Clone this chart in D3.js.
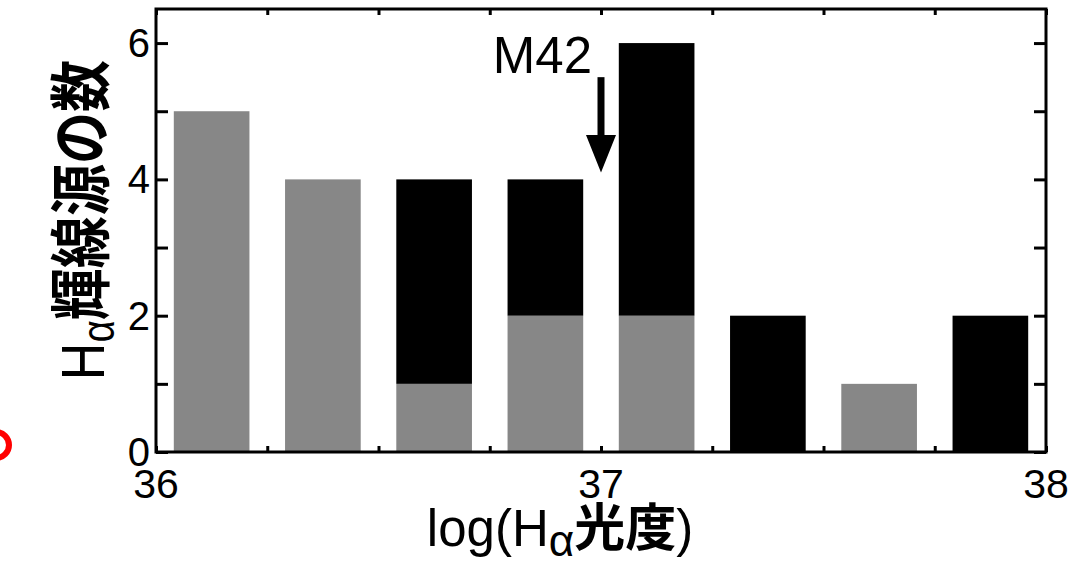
<!DOCTYPE html>
<html>
<head>
<meta charset="utf-8">
<script src="https://cdn.jsdelivr.net/npm/d3@7"></script>
<style>
  body { margin: 0; background: #fff; }
  svg { display: block; }
  text { font-family: "Liberation Sans", Arial, sans-serif; fill: #000; }
  .cjk { font-family: "Noto Sans CJK JP", sans-serif; font-weight: bold; }
</style>
</head>
<body>
<div class="chart"></div>
<script>
// bins of log(H-alpha luminosity), left edges, width 0.25
var binStarts = [36.0, 36.25, 36.5, 36.75, 37.0, 37.25, 37.5, 37.75];
// gray part (bottom of the stack) and black part (on top)
var grayCounts = [5, 4, 1, 2, 2, 0, 1, 0];
var blackCounts = [0, 0, 3, 2, 4, 2, 0, 2];

var xTickLabels = [36, 37, 38];
var yTickLabels = [0, 2, 4, 6];

var m42Value = 37.0;

var svgWidth = 1080, svgHeight = 567;
var margin = { top: 9, right: 34, bottom: 115, left: 156 };
var width = svgWidth - margin.left - margin.right;
var height = svgHeight - margin.top - margin.bottom;

var svg = d3.select(".chart").append("svg")
  .attr("width", svgWidth)
  .attr("height", svgHeight);

var chartGroup = svg.append("g")
  .attr("transform", `translate(${margin.left}, ${margin.top})`);

// scales
var xScale = d3.scaleLinear().domain([36, 38]).range([0, width]);
var xBand = d3.scaleBand()
  .domain(binStarts)
  .range([0, width])
  .paddingInner(0.32)
  .paddingOuter(0.16);
var yScale = d3.scaleLinear().domain([0, 6.5]).range([height, 0]);

// bars
var rows = binStarts.map(function (b, i) {
  return { bin: b, gray: grayCounts[i], black: blackCounts[i] };
});

chartGroup.selectAll(".gray")
  .data(rows.filter(d => d.gray > 0))
  .enter()
  .append("rect")
  .attr("x", d => xBand(d.bin))
  .attr("width", xBand.bandwidth())
  .attr("y", d => yScale(d.gray))
  .attr("height", d => yScale(0) - yScale(d.gray))
  .attr("fill", "#878787");

chartGroup.selectAll(".black")
  .data(rows.filter(d => d.black > 0))
  .enter()
  .append("rect")
  .attr("x", d => xBand(d.bin))
  .attr("width", xBand.bandwidth())
  .attr("y", d => yScale(d.gray + d.black))
  .attr("height", d => yScale(d.gray) - yScale(d.gray + d.black))
  .attr("fill", "#000");

// axes: ticks pointing inward, frame on all sides
var minorX = d3.range(36, 38.001, 0.25);
var yTicks = d3.range(0, 7, 1);

chartGroup.append("g")
  .attr("transform", `translate(0, ${height})`)
  .call(d3.axisBottom(xScale).tickValues(minorX).tickSizeInner(-6).tickSizeOuter(0).tickFormat(""));
chartGroup.append("g")
  .call(d3.axisTop(xScale).tickValues(minorX).tickSizeInner(-6).tickSizeOuter(0).tickFormat(""));
chartGroup.append("g")
  .call(d3.axisLeft(yScale).tickValues(yTicks).tickSizeInner(-12).tickSizeOuter(0).tickFormat(""));
chartGroup.append("g")
  .attr("transform", `translate(${width}, 0)`)
  .call(d3.axisRight(yScale).tickValues(yTicks).tickSizeInner(-12).tickSizeOuter(0).tickFormat(""));

chartGroup.selectAll(".domain").remove();
chartGroup.selectAll(".tick line").attr("stroke", "#000").attr("stroke-width", 3);

chartGroup.append("rect")
  .attr("x", 0).attr("y", 0)
  .attr("width", width).attr("height", height)
  .attr("fill", "none")
  .attr("stroke", "#000")
  .attr("stroke-width", 3);

// tick labels
chartGroup.selectAll(".xlab")
  .data(xTickLabels)
  .enter()
  .append("text")
  .attr("x", d => xScale(d))
  .attr("y", height + 46)
  .attr("text-anchor", "middle")
  .attr("font-size", "41px")
  .text(d => d);

chartGroup.selectAll(".ylab")
  .data(yTickLabels)
  .enter()
  .append("text")
  .attr("x", -6)
  .attr("y", d => yScale(d) + 14)
  .attr("text-anchor", "end")
  .attr("font-size", "40px")
  .text(d => d);

// M42 marker
var ax = xScale(m42Value);
chartGroup.append("line")
  .attr("x1", ax).attr("x2", ax)
  .attr("y1", yScale(5.5)).attr("y2", yScale(4.6))
  .attr("stroke", "#000").attr("stroke-width", 7);
chartGroup.append("path")
  .attr("d", `M${ax - 15},${yScale(4.65)} L${ax + 15},${yScale(4.65)} L${ax},${yScale(4.1)} Z`)
  .attr("fill", "#000");
chartGroup.append("text")
  .attr("x", ax - 9)
  .attr("y", yScale(5.56))
  .attr("text-anchor", "end")
  .attr("font-size", "51px")
  .text("M42");

// x axis label
var xt = svg.append("text")
  .attr("x", 560)
  .attr("y", 546)
  .attr("text-anchor", "middle")
  .attr("font-size", "51px");
xt.append("tspan").text("log(H");
xt.append("tspan").attr("dy", 10).attr("font-size", "44px").text("α");
xt.append("tspan").attr("dy", -10).attr("class", "cjk").text("光度");
xt.append("tspan").text(")");

// y axis label
var yt = svg.append("text")
  .attr("transform", "translate(104, 220) rotate(-90) scale(0.84, 1)")
  .attr("text-anchor", "middle")
  .attr("font-size", "62px");
yt.append("tspan").text("H");
yt.append("tspan").attr("dy", 10).attr("font-size", "46px").text("α");
yt.append("tspan").attr("dy", -10).attr("class", "cjk").text("輝線源の数");

// fragment of a red ring cut off at the left edge
svg.append("circle")
  .attr("cx", -4).attr("cy", 445).attr("r", 13)
  .attr("fill", "none")
  .attr("stroke", "#ff0000")
  .attr("stroke-width", 6);
</script>
</body>
</html>
